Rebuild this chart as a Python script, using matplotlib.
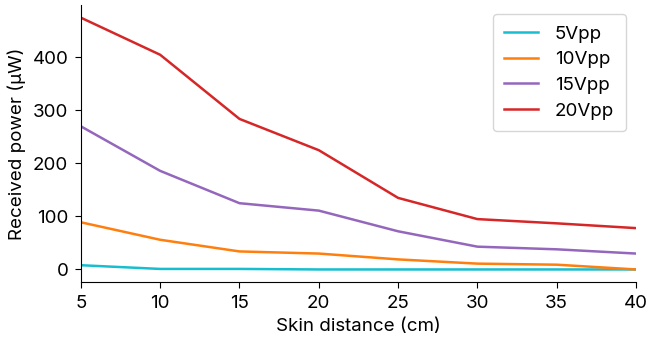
import matplotlib
matplotlib.use('Agg')
import matplotlib.pyplot as plt

distance = [5, 10, 15, 20, 25, 30, 35, 40]
p_5vpp = [8, 1, 1, 0, 0, 0, 0, 0]
p_10vpp = [89, 56, 34, 30, 19, 11, 9, 0]
p_15vpp = [270, 186, 125, 111, 72, 43, 38, 30]
p_20vpp = [475, 405, 284, 225, 135, 95, 87, 78]

series = [('5Vpp', p_5vpp, '#17becf'),
          ('10Vpp', p_10vpp, '#ff7f0e'),
          ('15Vpp', p_15vpp, '#9467bd'),
          ('20Vpp', p_20vpp, '#d62728')]

plt.rcParams['font.family'] = ['Inter', 'DejaVu Sans']
plt.rcParams['font.size'] = 13.5

fig, ax = plt.subplots(figsize=(6.47, 3.39), dpi=100)
for name, vals, color in series:
    ax.plot(distance, vals, color=color, lw=1.8, label=name)

ax.set_xlim(5, 40)
ax.margins(y=0.05)
ax.set_xticks(distance)
ax.set_yticks([0, 100, 200, 300, 400])
ax.set_xlabel('Skin distance (cm)', labelpad=5)
ax.set_ylabel('Received power (µW)', labelpad=5)
ax.spines['top'].set_visible(False)
ax.spines['right'].set_visible(False)
ax.tick_params(labelsize=13.5, length=4, pad=5)
ax.legend(loc='upper right', fontsize=13.5, handlelength=1.8, borderpad=0.6,
          labelspacing=0.45, handletextpad=0.9, bbox_to_anchor=(0.998, 1.0))

fig.subplots_adjust(left=0.125, right=0.983, top=0.985, bottom=0.168)
fig.savefig('out.png')
